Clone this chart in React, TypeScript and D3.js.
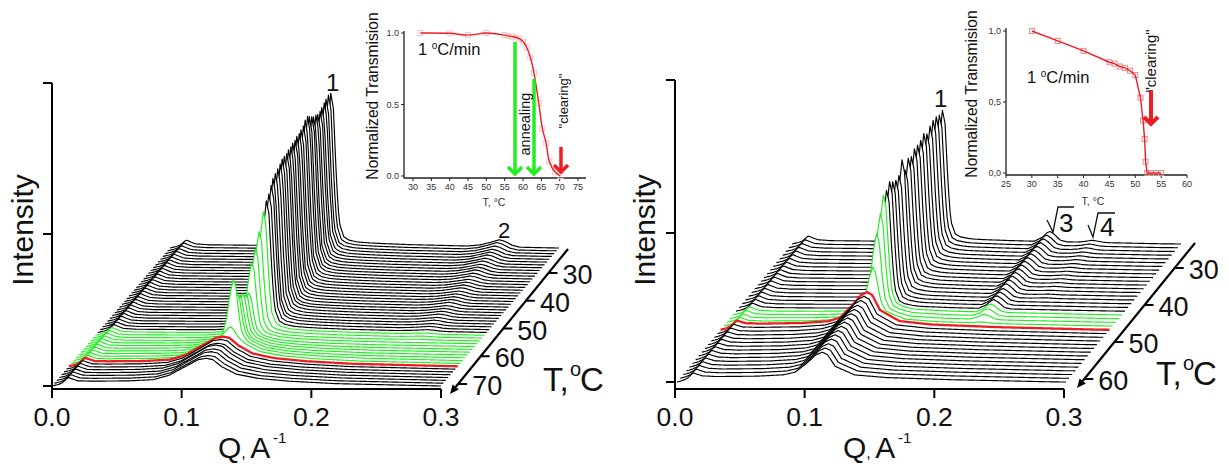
import React from 'react'
import { scaleLinear, line, area, range, curveCatmullRom, curveLinear } from 'd3'

// every list below runs from the front trace (hottest) to the back trace
const leftBroad = [26, 26, 27, 27, 28, 27, 28, 28, 26, 22, 20, 18, 16, 14, 12, 10, 8, 7, 6, 5, 5, 5, 4, 4, 4, 4, 4, 3, 3, 3, 3, 3, 3, 3, 3, 3, 3, 3, 3, 3, 3, 3, 3, 3, 3, 3, 3, 3, 3, 3]
const leftSharp = [0, 0, 0, 0, 0, 0, 0, 0, 9, 57, 43, 40, 41, 39, 40, 69, 82, 98, 116, 125, 129, 135, 140, 142, 144, 146, 148, 149, 149, 150, 150, 151, 151, 152, 152, 153, 154, 157, 158, 155, 152, 149, 148, 146, 146, 147, 149, 150, 151, 150]
const leftPeakQ = [.119, .119, .119, .119, .119, .119, .119, .119, .1225, .123, .124, .124, .1245, .125, .1255, .126, .127, .128, .1295, .13, .13, .13, .1295, .1295, .1295, .1295, .1292, .129, .129, .1285, .1285, .128, .128, .1275, .1275, .127, .127, .1265, .1265, .126, .126, .1255, .1255, .125, .125, .1245, .1245, .124, .124, .124]
const leftRidge = [0, 0, 0, 0, 0, 0, 0, 0, 0, 0, 0, 0, 0, 0, 0, 0, .5, .8, 1, 1.5, 2, 2, 2.5, 2.5, 3, 3, 3, 3, 3.5, 3.5, 3.5, 3.5, 3.5, 4, 4, 4, 4, 4.5, 4.5, 5, 5, 5, 5.5, 5.5, 6, 6, 6, 6.5, 7, 7]
const leftRidgeQ = 0.254

const rightBroad = [28, 28.5, 29, 30, 30.5, 31, 31.5, 32, 32.5, 33, 33.5, 34, 35, 35.5, 36, 24, 18, 14, 10, 6, 6, 5, 5, 5, 5, 5, 5, 4, 4, 4, 4, 4, 4, 4, 4, 4, 4, 4]
const rightSharp = [0, 0, 0, 0, 0, 0, 0, 0, 0, 0, 0, 0, 0, 0, 0, 33, 69, 89, 108, 113, 118, 115, 113, 114, 126, 112, 120, 119, 123, 123, 124, 127, 123, 127, 129, 129, 127, 128]
const rightPeakQ = [.112, .112, .112, .112, .1122, .1122, .1124, .1124, .1125, .1126, .1127, .1128, .1129, .113, .113, .115, .1155, .116, .116, .116, .116, .116, .116, .116, .116, .116, .116, .116, .116, .116, .116, .116, .116, .116, .116, .116, .116, .116]
const rightRidge = [0, 0, 0, 0, 0, 0, 0, 0, 0, 0, 0, 0, 0, 0, 0, 1, 5, 7, 8, 9, 9, 9, 9, 10, 10, 10, 10, 10, 10, 10, 10, 10, 10, 10, 10, 10, 10, 10]
const rightRidgeQ = 0.199
const rightFourth = [0, 0, 0, 0, 0, 0, 0, 0, 0, 0, 0, 0, 0, 0, 0, 0, 0, 0, 0, 0, 0, 0, .5, .5, .5, .8, .8, 1, 1, 1, 1.2, 1.2, 1.5, 1.5, 1.5, 2, 2, 2]
const rightFourthQ = 0.232

// profiles: [offset from the peak in Q, fraction of height]
const levelProfile = [[0, 0], [.005, 1.5], [.008, 3], [.0125, 8], [.016, 6], [.02, 4], [.03, 3], [.06, 2.5], [.09, 2], [.14, 1.5], [.2, 1], [.3, 0]]
const sharpProfile = [[-.02, 0], [-.012, .03], [-.008, .1], [-.005, .35], [-.0025, .75], [0, 1], [.002, .9], [.0045, .4], [.0065, .14], [.01, .05], [.014, .03], [.02, .022], [.03, .018], [.06, .012], [.1, .008], [.17, 0]]
const leftBroadProfile = [[-.115, 0], [-.09, .07], [-.06, .1], [-.041, .16], [-.029, .33], [-.016, .68], [-.006, .95], [0, 1], [.005, .95], [.012, .68], [.023, .4], [.04, .24], [.064, .14], [.1, .06], [.18, 0]]
const rightBroadProfile = [[-.11, 0], [-.09, .08], [-.05, .12], [-.03, .18], [-.021, .28], [-.012, .6], [-.005, .9], [0, 1], [.004, .92], [.01, .5], [.025, .2], [.05, .11], [.1, .05], [.18, 0]]
const leftRidgeProfile = [[-.025, 0], [-.015, .2], [-.007, .6], [0, 1], [.004, .8], [.01, .25], [.016, 0]]
const rightRidgeProfile = [[-.012, 0], [-.006, .4], [-.002, .9], [0, 1], [.003, .75], [.008, .15], [.013, 0]]

const qTicks = [0, 0.1, 0.2, 0.3]
const leftTemps = [30, 40, 50, 60, 70]
const rightTemps = [30, 40, 50, 60]

// insets
const leftInsetT = [32, 40, 45, 50, 55, 56, 57, 58, 59, 60, 61, 62, 63, 64.3, 65.3, 66.3, 67.2, 68.7, 70.2]
const leftInsetV = [1, .998, .985, 1, .985, .98, .975, .97, .96, .94, .9, .83, .72, .51, .33, .23, .1, .03, 0]
const rightInsetT = [30, 35, 40, 45, 46, 47, 48, 49, 50, 51, 51.5, 51.8, 52, 52.3, 53, 54, 55]
const rightInsetV = [1, .93, .86, .78, .77, .75, .74, .72, .69, .53, .37, .24, .08, 0, 0, 0, 0]
const leftInsetTicks = [30, 35, 40, 45, 50, 55, 60, 65, 70, 75]
const rightInsetTicks = [25, 30, 35, 40, 45, 50, 55, 60]

const FONT = '"Liberation Sans", Arial, sans-serif'
const RED = '#ee1c25'
const GREEN = '#22ee22'

const lookup = (table: number[][]) =>
  scaleLinear().domain(table.map(d => d[0])).range(table.map(d => d[1])).clamp(true)

const level = lookup(levelProfile)
const sharp = lookup(sharpProfile)

const Waterfall = ({ cfg }: any) => {
  const { x0, baseY, dx, dy, count, broad, sharpH, peakQ, ridge, ridgeQ, broadShape, ridgeShape, fourth, fourthQ, greenFrom, greenTo, redAt } = cfg
  const xs = scaleLinear().domain([0, 0.3]).range([x0, x0 + 389])
  const broadFn = lookup(broadShape)
  const ridgeFn = lookup(ridgeShape)
  const order = range(count - 1, -1, -1)
  return (
    <g>
      {order.map((n: number) => {
        const qs = range(0, 0.3005, 0.001).concat([peakQ[n]]).sort((a: number, b: number) => a - b)
        const height = (q: number) =>
          level(q) + broad[n] * broadFn(q - peakQ[n]) + sharpH[n] * sharp(q - peakQ[n]) +
          ridge[n] * ridgeFn(q - ridgeQ) + (fourth ? fourth[n] * ridgeFn(q - fourthQ) : 0)
        const ox = dx * n
        const base = baseY - dy * n
        const path = line<number>().x(q => xs(q) + ox).y(q => base - height(q))(qs)
        const fill = area<number>().x(q => xs(q) + ox).y0(base).y1(q => base - height(q))(qs)
        const isRed = n === redAt
        const isGreen = n >= greenFrom && n <= greenTo
        return (
          <g key={n}>
            <path d={fill as string} fill="#fff" />
            <path d={path as string} fill="none" stroke={isRed ? RED : isGreen ? GREEN : '#000'} strokeWidth={isRed ? 2.3 : 1.15} strokeLinejoin="round" />
          </g>
        )
      })}
    </g>
  )
}

const MainAxes = ({ cfg }: any) => {
  const { x0, axisY, tickYs, top, depthStart, depthEnd, tempY, labelX, qLabelX, tX, tY, temps } = cfg
  const xs = scaleLinear().domain([0, 0.3]).range([x0, x0 + 389])
  const depthX = scaleLinear().domain([depthStart[1], depthEnd[1]]).range([depthStart[0], depthEnd[0]])
  const ang = Math.atan2(depthEnd[1] - depthStart[1], depthEnd[0] - depthStart[0])
  const head = 9
  const hx = depthEnd[0] - head * Math.cos(ang)
  const hy = depthEnd[1] - head * Math.sin(ang)
  const px = 4 * Math.sin(ang)
  const py = 4 * Math.cos(ang)
  return (
    <g fontFamily={FONT} fill="#111">
      <path d={`M${x0},${top}V${axisY}H${x0 + 389}`} fill="none" stroke="#000" strokeWidth={2} />
      {tickYs.map((y: number) => <line key={y} x1={x0 - 9} x2={x0} y1={y} y2={y} stroke="#000" strokeWidth={2} />)}
      {qTicks.map(q => (
        <g key={q}>
          <line x1={xs(q)} x2={xs(q)} y1={axisY} y2={axisY + 9} stroke="#000" strokeWidth={2} />
          <text x={xs(q)} y={axisY + 37} fontSize={26.5} textAnchor="middle">{q.toFixed(1)}</text>
        </g>
      ))}
      <text transform={`translate(${labelX},230) rotate(-90)`} fontSize={30} textAnchor="middle">Intensity</text>
      <text x={qLabelX} y={458} fontSize={30}>Q<tspan fontSize={16}>, </tspan>A</text>
      <text x={qLabelX + 55} y={443} fontSize={15}>-1</text>
      <line x1={depthStart[0]} y1={depthStart[1]} x2={hx} y2={hy} stroke="#000" strokeWidth={2.2} />
      <path d={`M${depthEnd[0]},${depthEnd[1]}L${hx + px},${hy - py}L${hx - px},${hy + py}Z`} fill="#000" />
      {temps.map((t: number) => {
        const y = tempY(t)
        const x = depthX(y)
        return (
          <g key={t}>
            <line x1={x} x2={x + 9} y1={y} y2={y} stroke="#000" strokeWidth={2} />
            <text x={x + 14} y={y + 11} fontSize={27}>{t}</text>
          </g>
        )
      })}
      <text x={tX} y={tY} fontSize={33}>T,</text>
      <text x={tX + 27} y={tY - 15} fontSize={20}>o</text>
      <text x={tX + 37} y={tY} fontSize={33}>C</text>
    </g>
  )
}

const Arrow = ({ x, y1, y2, color, width, head }: any) => (
  <g fill="none" stroke={color} strokeWidth={width}>
    <line x1={x} x2={x} y1={y1} y2={y2} />
    <path d={`M${x - head},${y2 - head}L${x},${y2}L${x + head},${y2 - head}`} />
  </g>
)

const Inset = ({ cfg }: any) => {
  const { sx, sy, xTicks, yTicks, ts, vs, axisX, axisY, right, top, smooth } = cfg
  const path = line<number>().x(i => sx(ts[i])).y(i => sy(vs[i])).curve(smooth ? curveCatmullRom : curveLinear)(range(ts.length))
  return (
    <g fontFamily={FONT}>
      <path d={`M${axisX},${top}V${axisY}H${right}`} fill="none" stroke="#222" strokeWidth={1.3} />
      {xTicks.map((t: number) => (
        <g key={t}>
          <line x1={sx(t)} x2={sx(t)} y1={axisY} y2={axisY + 3} stroke="#222" />
          <text x={sx(t)} y={axisY + 12} fontSize={9} fill="#333" textAnchor="middle">{t}</text>
        </g>
      ))}
      {yTicks.map((t: any) => (
        <g key={t[1]}>
          <line x1={axisX - 3} x2={axisX} y1={sy(t[1])} y2={sy(t[1])} stroke="#222" />
          <text x={axisX - 5} y={sy(t[1]) + 3} fontSize={9} fill="#333" textAnchor="end">{t[0]}</text>
        </g>
      ))}
      {ts.map((t: number, i: number) => (
        <rect key={i} x={sx(t) - 2.5} y={sy(vs[i]) - 2.5} width={5} height={5} fill="none" stroke={smooth ? '#f5c6c6' : '#e88a8a'} strokeWidth={1} />
      ))}
      <path d={path as string} fill="none" stroke={RED} strokeWidth={1.4} />
    </g>
  )
}

const leftTempY = scaleLinear().domain([30, 70]).range([273, 384])
const rightTempY = scaleLinear().domain([30, 60]).range([268, 379])

const leftInsetSx = scaleLinear().domain([30, 75]).range([413, 578])
const leftInsetSy = scaleLinear().domain([0, 1]).range([176, 33])
const rightInsetSx = scaleLinear().domain([25, 60]).range([1006, 1187])
const rightInsetSy = scaleLinear().domain([0, 1]).range([173, 31])

export default function App() {
  return (
    <svg width={1229} height={466} style={{ position: 'absolute', left: 0, top: 0, background: '#fff' }}>
      <Waterfall cfg={{ x0: 52, baseY: 386, dx: 118 / 49, dy: 138 / 49, count: 50, broad: leftBroad, sharpH: leftSharp, peakQ: leftPeakQ, ridge: leftRidge, ridgeQ: leftRidgeQ, broadShape: leftBroadProfile, ridgeShape: leftRidgeProfile, greenFrom: 8, greenTo: 18, redAt: 7 }} />
      <Waterfall cfg={{ x0: 677, baseY: 382, dx: 115 / 37, dy: 138 / 37, count: 38, broad: rightBroad, sharpH: rightSharp, peakQ: rightPeakQ, ridge: rightRidge, ridgeQ: rightRidgeQ, broadShape: rightBroadProfile, ridgeShape: rightRidgeProfile, fourth: rightFourth, fourthQ: rightFourthQ, greenFrom: 15, greenTo: 18, redAt: 14 }} />

      <MainAxes cfg={{ x0: 52, axisY: 389, tickYs: [83, 234, 386], top: 83, depthStart: [568, 249], depthEnd: [450, 394], tempY: leftTempY, labelX: 33, qLabelX: 218, tX: 543, tY: 391, temps: leftTemps }} />
      <MainAxes cfg={{ x0: 675, axisY: 389, tickYs: [80, 233, 382], top: 80, depthStart: [1195, 243], depthEnd: [1077, 388], tempY: rightTempY, labelX: 655, qLabelX: 843, tX: 1156, tY: 385, temps: rightTemps }} />

      <g fontFamily={FONT} fill="#111">
        <text x={326} y={91} fontSize={24}>1</text>
        <text x={498} y={238} fontSize={22}>2</text>
        <text x={934} y={107} fontSize={24}>1</text>
        <path d="M1047,220L1053,232L1058,207H1074" fill="none" stroke="#111" strokeWidth={1.3} />
        <text x={1059} y={232} fontSize={26}>3</text>
        <path d="M1088,225L1093,237L1098,213H1115" fill="none" stroke="#111" strokeWidth={1.3} />
        <text x={1100} y={236} fontSize={26}>4</text>
      </g>

      <Inset cfg={{ sx: leftInsetSx, sy: leftInsetSy, xTicks: leftInsetTicks, yTicks: [['1.0', 1], ['0.5', .5], ['0.0', 0]], ts: leftInsetT, vs: leftInsetV, axisX: 404, axisY: 178, right: 586, top: 31, smooth: true }} />
      <Inset cfg={{ sx: rightInsetSx, sy: rightInsetSy, xTicks: rightInsetTicks, yTicks: [['1,0', 1], ['0,5', .5], ['0,0', 0]], ts: rightInsetT, vs: rightInsetV, axisX: 1006, axisY: 175, right: 1187, top: 28, smooth: false }} />

      <Arrow x={515} y1={42} y2={174} color={GREEN} width={3.5} head={7} />
      <Arrow x={534} y1={79} y2={174} color={GREEN} width={3.5} head={7} />
      <Arrow x={561} y1={147} y2={172} color={RED} width={3.5} head={7} />
      <Arrow x={1151} y1={90} y2={124} color={RED} width={4} head={7} />

      <g fontFamily={FONT} fill="#111">
        <text transform="translate(378,96) rotate(-90)" fontSize={15.6} textAnchor="middle">Normalized Transmision</text>
        <text transform="translate(977,94) rotate(-90)" fontSize={15.6} textAnchor="middle">Normalized Transmision</text>
        <text x={418} y={55} fontSize={16.5}>1 <tspan fontSize={10} dy={-6}>o</tspan><tspan dy={6}>C/min</tspan></text>
        <text x={1027} y={83} fontSize={16.5}>1 <tspan fontSize={10} dy={-6}>o</tspan><tspan dy={6}>C/min</tspan></text>
        <text transform="translate(530,124) rotate(-90)" fontSize={14.5} textAnchor="middle">annealing</text>
        <text transform="translate(568,101) rotate(-90)" fontSize={13} textAnchor="middle">"clearing"</text>
        <text transform="translate(1156,61) rotate(-90)" fontSize={15} textAnchor="middle">"clearing"</text>
        <text x={494} y={206} fontSize={10.5} textAnchor="middle" fill="#333">T, °C</text>
        <text x={1093} y={205} fontSize={10.5} textAnchor="middle" fill="#333">T, °C</text>
      </g>
    </svg>
  )
}
